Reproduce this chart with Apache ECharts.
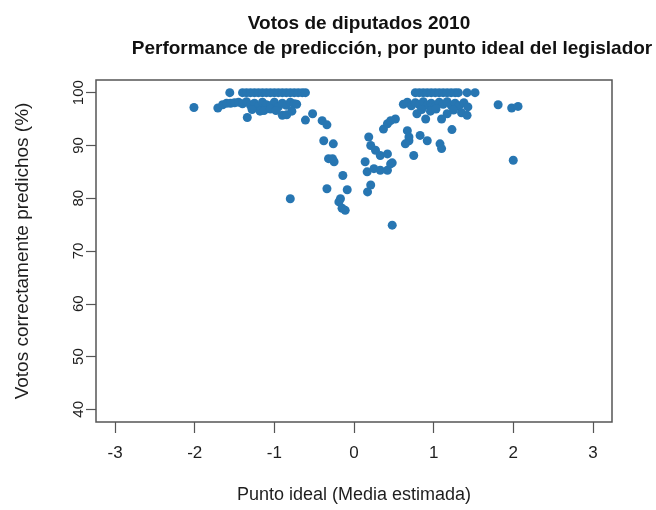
<!DOCTYPE html>
<html>
<head>
<meta charset="utf-8">
<script src="https://cdn.jsdelivr.net/npm/echarts@6/dist/echarts.min.js"></script>
<style>
  html, body { margin: 0; padding: 0; background: #fff; }
  #chart { width: 656px; height: 510px; }
</style>
</head>
<body>
<div id="chart"></div>
<script>
// Estimated ideal point of each legislator (posterior mean)
const idealPoint = [
  // left bloc
  -2.01,
  -1.56, -1.40, -1.35, -1.30, -1.25, -1.20, -1.15, -1.10, -1.05, -1.00, -0.95, -0.90, -0.85, -0.80, -0.75, -0.70, -0.65, -0.61,
  -1.71, -1.65, -1.60, -1.55, -1.50, -1.45, -1.40, -1.35, -1.30, -1.25, -1.20, -1.15, -1.10, -1.05, -1.00, -0.95, -0.90, -0.85, -0.80, -0.75, -0.72,
  -1.34, -1.28, -1.18, -1.13, -1.05, -0.98, -0.90, -0.845, -0.78,
  -0.61, -0.52, -0.40, -0.34, -0.38, -0.26, -0.32, -0.27, -0.25, -0.14, -0.34, -0.085, -0.17, -0.19, -0.15, -0.11, -0.80,
  // centre
  0.185, 0.21, 0.27, 0.33, 0.42, 0.14, 0.165, 0.25, 0.33, 0.42, 0.48, 0.21, 0.17, 0.37, 0.42, 0.52, 0.46, 0.67, 0.69, 0.75,
  0.48, 0.69, 0.645, 0.83, 0.92, 1.08, 1.10, 0.46,
  // right bloc
  0.77, 0.82, 0.87, 0.92, 0.97, 1.02, 1.07, 1.12, 1.17, 1.22, 1.27, 1.31, 1.42, 1.52,
  0.62, 0.67, 0.72, 0.77, 0.82, 0.87, 0.92, 0.97, 1.02, 1.07, 1.12, 1.17, 1.22, 1.27, 1.32, 1.38, 1.43,
  0.79, 0.85, 0.90, 0.96, 1.03, 1.10, 1.17, 1.25, 1.35, 1.42,
  1.23, 1.81, 1.98, 2.06, 2.00
];

// Share of votes correctly predicted for each legislator (%)
const pctCorrect = [
  97.2,
  100, 100, 100, 100, 100, 100, 100, 100, 100, 100, 100, 100, 100, 100, 100, 100, 100, 100,
  97.1, 97.7, 98.0, 98.0, 98.1, 98.2, 97.9, 98.3, 97.6, 98.0, 97.4, 98.2, 97.7, 97.5, 98.2, 97.3, 98.0, 97.6, 98.2, 97.9, 97.8,
  95.3, 96.8, 96.5, 96.6, 96.9, 96.6, 95.7, 95.8, 96.5,
  94.8, 96.0, 94.7, 93.9, 90.9, 90.3, 87.5, 87.5, 86.9, 84.3, 81.8, 81.6, 79.9, 79.3, 78.1, 77.7, 79.9,
  91.6, 90.0, 89.1, 88.1, 88.4, 86.9, 85.0, 85.6, 85.3, 85.3, 86.7, 82.5, 81.2, 93.1, 94.1, 95.0, 94.7, 92.8, 90.9, 88.1,
  74.9, 91.6, 90.3, 91.9, 90.9, 90.3, 89.4, 86.5,
  100, 100, 100, 100, 100, 100, 100, 100, 100, 100, 100, 100, 100, 100,
  97.8, 98.2, 97.5, 98.1, 97.7, 98.3, 97.6, 98.0, 97.4, 98.2, 97.8, 98.3, 97.6, 98.0, 97.5, 98.1, 97.3,
  96.0, 96.8, 95.0, 96.5, 96.9, 95.0, 96.0, 96.7, 96.2, 95.7,
  93.0, 97.7, 97.1, 97.4, 87.2
];

const xTicks = [-3, -2, -1, 0, 1, 2, 3];
const yTicks = [40, 50, 60, 70, 80, 90, 100];

const titleLines = ['Votos de diputados 2010', 'Performance de predicción, por punto ideal del legislador'];
const xLabel = 'Punto ideal (Media estimada)';
const yLabel = 'Votos correctamente predichos (%)';

const points = idealPoint.map((x, i) => [x, pctCorrect[i]]);

const FONT = '"Liberation Sans", Arial, Helvetica, sans-serif';
const INK = '#1e1e1e';

const chart = echarts.init(document.getElementById('chart'), null, { renderer: 'canvas' });

chart.setOption({
  animation: false,
  backgroundColor: '#ffffff',
  title: [
    {
      text: titleLines[0], left: 354, top: 9, textAlign: 'center',
      textStyle: { fontFamily: FONT, fontWeight: 'bold', fontSize: 19, color: '#111' }
    },
    {
      text: titleLines[1], left: 387, top: 34, textAlign: 'center',
      textStyle: { fontFamily: FONT, fontWeight: 'bold', fontSize: 19, color: '#111' }
    }
  ],
  grid: {
    left: 96, top: 80, width: 516, height: 342,
    show: true, borderColor: '#555', borderWidth: 1.5, backgroundColor: 'transparent'
  },
  xAxis: {
    type: 'value',
    min: -3.24, max: 3.24,
    axisLine: { show: false, onZero: false },
    splitLine: { show: false },
    axisTick: {
      show: true, length: 11, lineStyle: { color: '#555', width: 1.2 },
      customValues: xTicks
    },
    axisLabel: {
      customValues: xTicks,
      margin: 23, fontFamily: FONT, fontSize: 17, color: INK
    },
    name: xLabel,
    nameLocation: 'middle',
    nameGap: 64,
    nameTextStyle: { fontFamily: FONT, fontSize: 18, color: INK }
  },
  yAxis: {
    type: 'value',
    min: 37.6, max: 102.4,
    axisLine: { show: false, onZero: false },
    splitLine: { show: false },
    axisTick: {
      show: true, length: 10, lineStyle: { color: '#555', width: 1.2 },
      customValues: yTicks
    },
    axisLabel: {
      customValues: yTicks,
      rotate: 90, margin: 10, fontFamily: FONT, fontSize: 15, color: INK
    },
    name: yLabel,
    nameLocation: 'middle',
    nameRotate: 90,
    nameGap: 64,
    nameTextStyle: { fontFamily: FONT, fontSize: 19, color: INK }
  },
  series: [{
    type: 'scatter',
    data: points,
    symbol: 'circle',
    symbolSize: 9,
    itemStyle: { color: '#2776b2', opacity: 1 }
  }]
});
</script>
</body>
</html>
